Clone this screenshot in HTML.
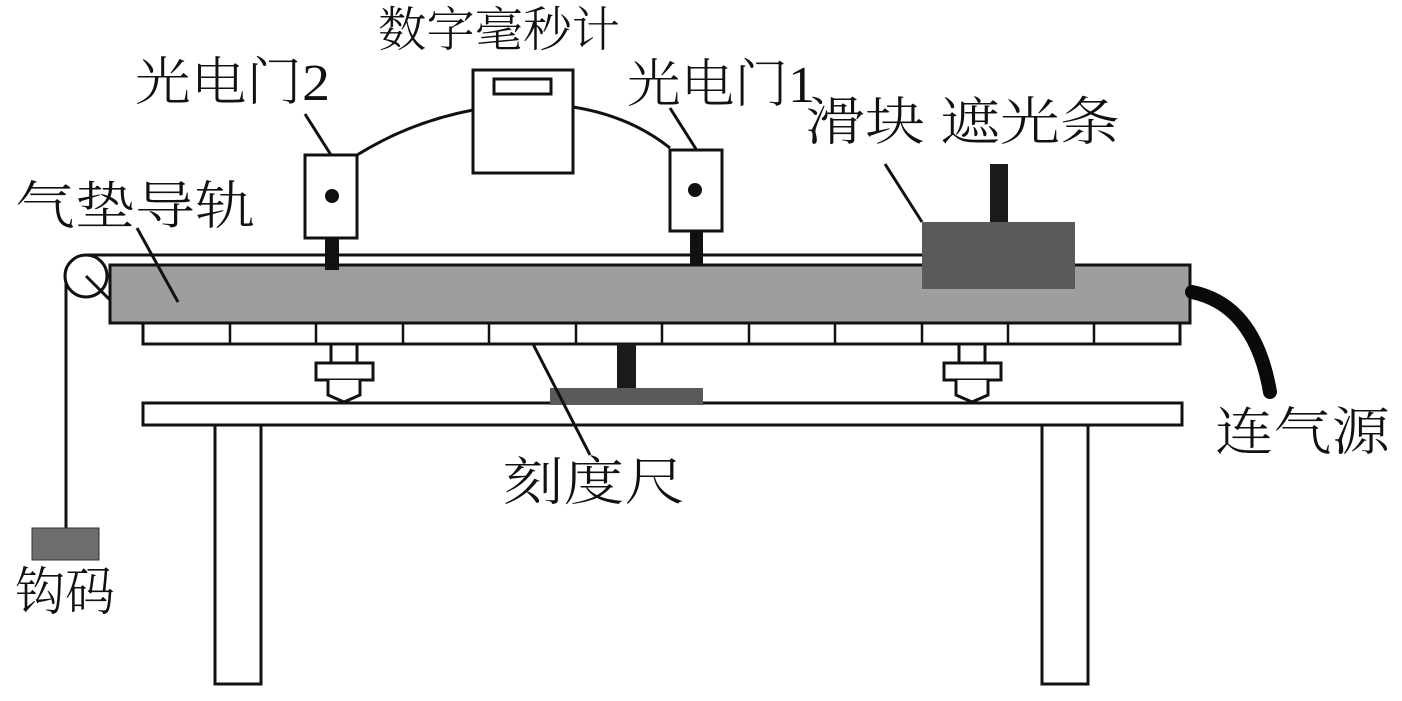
<!DOCTYPE html>
<html><head><meta charset="utf-8"><style>
html,body{margin:0;padding:0;background:#fff}
svg{display:block}
text{font-family:"Liberation Serif","Noto Serif CJK SC",serif;fill:#111;font-weight:300}
</style></head><body>
<svg width="1402" height="701" viewBox="0 0 1402 701" xmlns="http://www.w3.org/2000/svg">
<g stroke="#111" stroke-width="3" fill="none">
<line x1="86" y1="255" x2="922" y2="255"/>
<line x1="66" y1="276" x2="66" y2="528"/>
<circle cx="86" cy="276" r="21" fill="#fff"/>
<line x1="86" y1="276" x2="110" y2="300"/>
<rect x="110" y="265" width="1080" height="58" fill="#9e9e9e"/>
<rect x="143" y="323" width="1037" height="21" fill="#fff"/>
<g stroke-width="2.5">
<line x1="230" y1="323" x2="230" y2="344"/><line x1="316" y1="323" x2="316" y2="344"/>
<line x1="403" y1="323" x2="403" y2="344"/><line x1="489" y1="323" x2="489" y2="344"/>
<line x1="576" y1="323" x2="576" y2="344"/><line x1="662" y1="323" x2="662" y2="344"/>
<line x1="749" y1="323" x2="749" y2="344"/><line x1="835" y1="323" x2="835" y2="344"/>
<line x1="922" y1="323" x2="922" y2="344"/><line x1="1008" y1="323" x2="1008" y2="344"/>
<line x1="1094" y1="323" x2="1094" y2="344"/>
</g>
<rect x="331" y="344" width="26" height="19" fill="#fff"/>
<rect x="316" y="363" width="57" height="17" fill="#fff"/>
<path d="M328 380 V395 L344 402 L360 395 V380" fill="#fff"/>
<rect x="959" y="344" width="26" height="19" fill="#fff"/>
<rect x="944" y="363" width="57" height="17" fill="#fff"/>
<path d="M956 380 V395 L972 402 L988 395 V380" fill="#fff"/>
<rect x="143" y="403" width="1039" height="22" fill="#fff"/>
<rect x="215" y="425" width="46" height="259" fill="#fff"/>
<rect x="1042" y="425" width="46" height="259" fill="#fff"/>
<rect x="305" y="155" width="52" height="83" fill="#fff"/>
<rect x="670" y="150" width="52" height="81" fill="#fff"/>
<rect x="473" y="70" width="100" height="103" fill="#fff"/>
<rect x="494" y="79" width="57" height="15"/>
<path d="M357 155 Q410 122 473 110"/>
<path d="M573 107 Q630 116 670 148"/>
<line x1="305" y1="114" x2="331" y2="155"/>
<line x1="670" y1="108" x2="696" y2="149"/>
<line x1="137" y1="228" x2="178" y2="302"/>
<line x1="885" y1="164" x2="922" y2="222"/>
<path d="M1192 292 Q1255 305 1270 392" stroke="#0a0a0a" stroke-width="14" stroke-linecap="round"/>
</g>
<circle cx="332" cy="196" r="7" fill="#111"/>
<circle cx="695" cy="190" r="7" fill="#111"/>
<rect x="325" y="238" width="14" height="32" fill="#111"/>
<rect x="690" y="231" width="13" height="34" fill="#111"/>
<rect x="990" y="164" width="18" height="58" fill="#1a1a1a"/>
<rect x="922" y="222" width="153" height="67" fill="#5a5a5a"/>
<rect x="617" y="344" width="19" height="45" fill="#1a1a1a"/>
<rect x="550" y="388" width="153" height="17" fill="#5a5a5a"/>
<line x1="533" y1="344" x2="590" y2="455" stroke="#111" stroke-width="3"/>
<rect x="32" y="528" width="67" height="32" fill="#6e6e6e" stroke="#333" stroke-width="1"/>
<g font-size="52">
<text x="378" y="46" font-size="48" textLength="242" lengthAdjust="spacingAndGlyphs">数字毫秒计</text>
<text x="135" y="100" textLength="195" lengthAdjust="spacingAndGlyphs">光电门2</text>
<text x="627" y="102" textLength="188" lengthAdjust="spacingAndGlyphs">光电门1</text>
<text x="805" y="140" textLength="315" lengthAdjust="spacingAndGlyphs">滑块 遮光条</text>
<text x="15" y="224" textLength="240" lengthAdjust="spacingAndGlyphs">气垫导轨</text>
<text x="1215" y="450" textLength="175" lengthAdjust="spacingAndGlyphs">连气源</text>
<text x="503" y="500" textLength="182" lengthAdjust="spacingAndGlyphs">刻度尺</text>
<text x="15" y="610" textLength="100" lengthAdjust="spacingAndGlyphs">钩码</text>
</g>
</svg>
</body></html>
